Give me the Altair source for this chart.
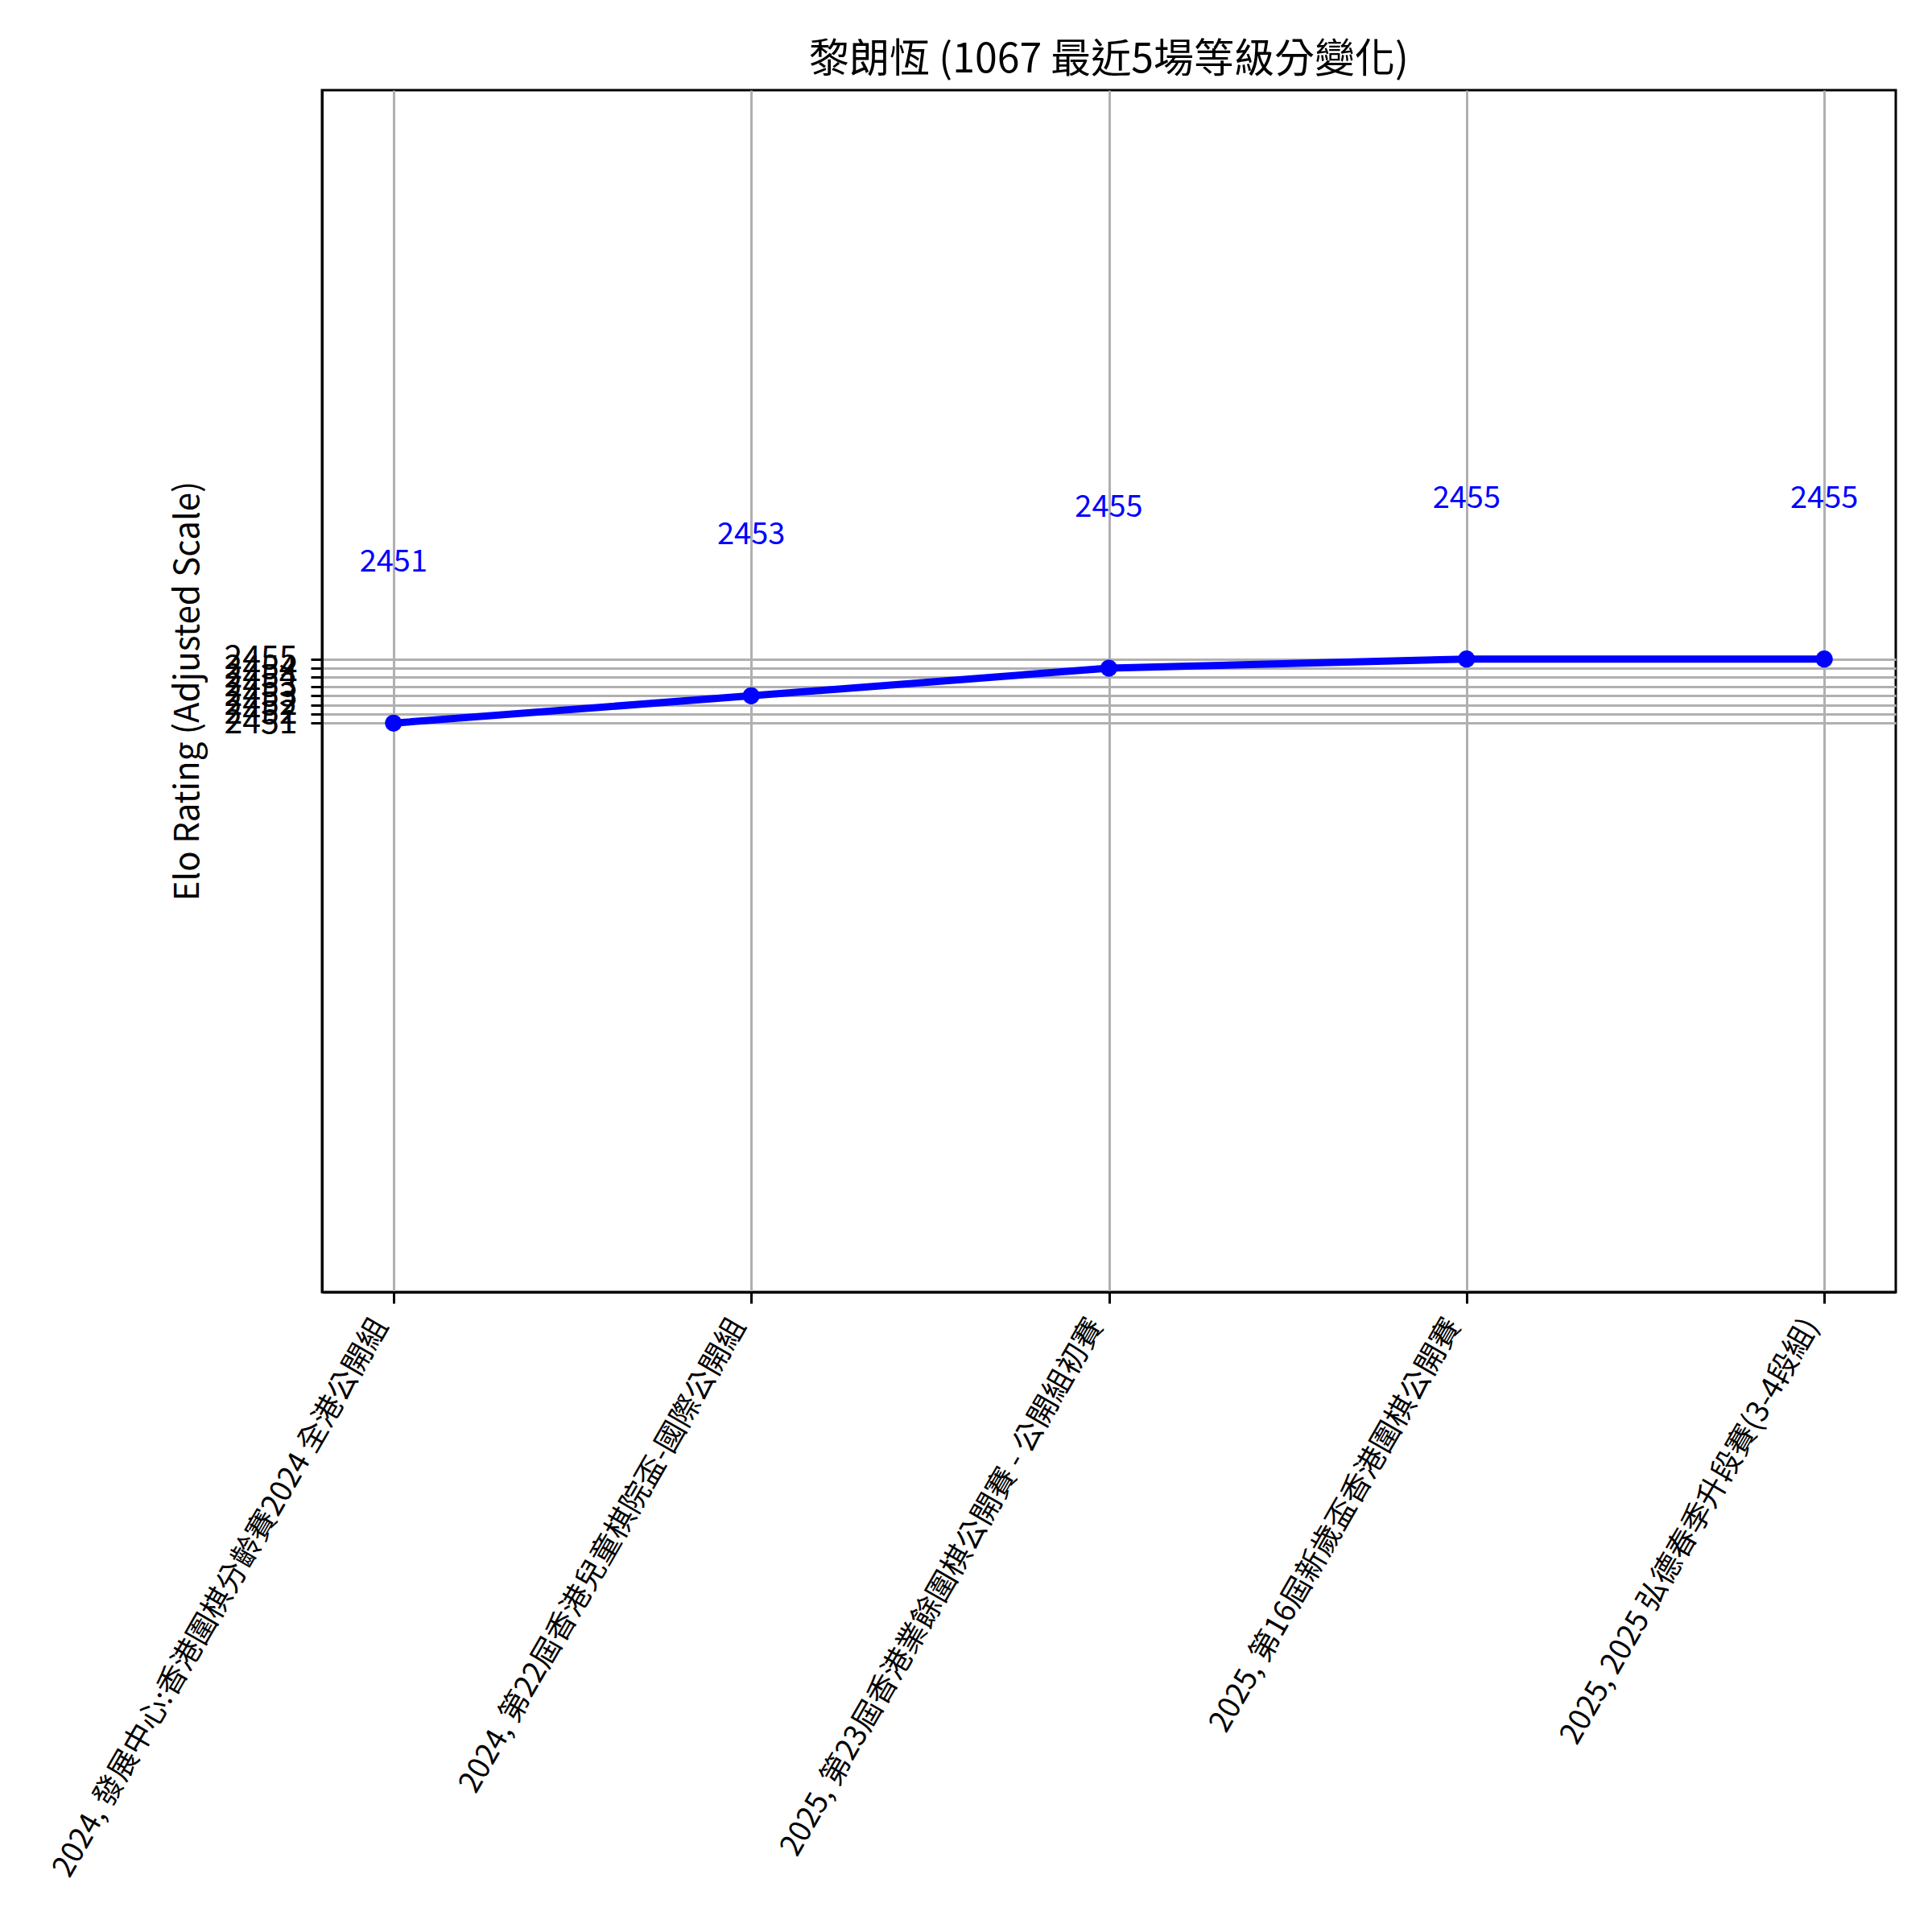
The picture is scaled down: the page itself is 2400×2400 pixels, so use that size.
import altair as alt
import pandas as pd

# ---- data ----
events = [
    "2024, 發展中心:香港圍棋分齡賽2024 全港公開組",
    "2024, 第22屆香港兒童棋院盃-國際公開組",
    "2025, 第23屆香港業餘圍棋公開賽 - 公開組初賽",
    "2025, 第16屆新歲盃香港圍棋公開賽",
    "2025, 2025 弘德春季升段賽(3-4段組)",
]
ratings = [2451.0, 2452.71, 2454.43, 2455.0, 2455.0]
labels = ["2451", "2453", "2455", "2455", "2455"]
y_ticks = [2451.0, 2451.57, 2452.14, 2452.71, 2453.29, 2453.86, 2454.43, 2455.0]
y_domain = [2415.5, 2490.5]

df = pd.DataFrame({"event": events, "rating": ratings, "label": labels})

FONT = "Noto Sans CJK TC"
BLUE = "#0000ff"
GRID = "#b0b0b0"

x_enc = alt.X(
    "event:N",
    sort=events,
    scale=alt.Scale(type="point", padding=0.2),
    axis=alt.Axis(
        title=None,
        labelAngle=300,
        labelAlign="right",
        labelBaseline="middle",
        labelOffset=-16,
        labelPadding=22,
        labelLimit=3000,
        labelFontSize=37,
        labelFont=FONT,
        labelColor="black",
        tickSize=14,
        tickWidth=3,
        tickColor="black",
        domainColor="black",
        domainWidth=3,
        grid=True,
        gridColor=GRID,
        gridWidth=3,
    ),
)

y_enc = alt.Y(
    "rating:Q",
    scale=alt.Scale(domain=y_domain, nice=False, zero=False),
    axis=alt.Axis(
        title="Elo Rating (Adjusted Scale)",
        titleFont=FONT,
        titleFontSize=42,
        titleFontWeight="normal",
        titleColor="black",
        titleAngle=270,
        titleAlign="center",
        titleBaseline="middle",
        titleX=-167,
        titleY=746,
        values=y_ticks,
        format=".0f",
        labelFontSize=41,
        labelFont=FONT,
        labelColor="black",
        labelPadding=17,
        labelOverlap=False,
        tickSize=14,
        tickWidth=3,
        tickColor="black",
        domainColor="black",
        domainWidth=3,
        grid=True,
        gridColor=GRID,
        gridWidth=3,
    ),
)

base = alt.Chart(df).encode(x=x_enc, y=y_enc)

line = base.mark_line(color=BLUE, strokeWidth=9)
points = base.mark_point(filled=True, color=BLUE, size=450, opacity=1)
text = base.mark_text(
    color=BLUE, fontSize=38, font=FONT, dy=-199, align="center", baseline="middle"
).encode(text="label:N")

chart = (
    alt.layer(line, points, text)
    .properties(
        width=1955,
        height=1493,
        view=alt.ViewBackground(stroke="#000000", strokeWidth=3, strokeOpacity=1),
        title=alt.TitleParams(
            "黎朗恆 (1067 最近5場等級分變化)",
            font=FONT,
            fontSize=50,
            fontWeight="normal",
            color="black",
            anchor="middle",
            baseline="alphabetic",
            offset=-28,
        ),
        padding={"left": 392, "top": 104, "right": 37, "bottom": 787},
        autosize="none",
    )
    .configure_view(stroke="#000000", strokeWidth=3, strokeOpacity=1)
    .configure(background="white")
)

chart.save("out.html", embed_options={"renderer": "svg", "actions": False})
